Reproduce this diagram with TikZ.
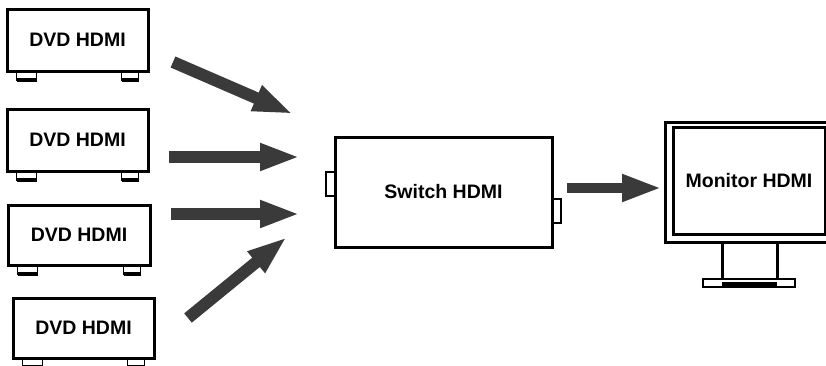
\documentclass[tikz,border=0pt]{standalone}
\usepackage{fontspec}
\setmainfont{Liberation Sans}
\usetikzlibrary{arrows.meta}
\definecolor{arr}{HTML}{3A3A3A}
\tikzset{
  dev/.style={draw=black, line width=3pt, fill=white, inner sep=0pt,
    font=\fontsize{19.5}{22}\selectfont\bfseries},
  bigarrow/.style={draw=arr, line width=12pt,
    -{Triangle[length=40pt,width=25pt]}},
  foot/.style={draw=black, line width=1.5pt, fill=white},
}
\newcommand{\feet}[1]{%
  \draw[foot] ([xshift=11pt]#1.south west) rectangle ([xshift=31pt,yshift=-8pt]#1.south west);
  \fill ([xshift=11pt,yshift=-5pt]#1.south west) rectangle ([xshift=31pt,yshift=-9pt]#1.south west);
  \draw[foot] ([xshift=-28pt]#1.south east) rectangle ([xshift=-11pt,yshift=-8pt]#1.south east);
  \fill ([xshift=-28pt,yshift=-5pt]#1.south east) rectangle ([xshift=-11pt,yshift=-9pt]#1.south east);
}
\begin{document}
\begin{tikzpicture}[x=1pt,y=-1pt]
\useasboundingbox (0,0) rectangle (826,365);
\clip (0,0) rectangle (826,365);
% DVD players
\node[dev, minimum width=141pt, minimum height=62pt] (d1) at (77.5,40) {DVD HDMI};
\node[dev, minimum width=141pt, minimum height=62pt] (d2) at (77.5,140) {DVD HDMI};
\node[dev, minimum width=142pt, minimum height=60pt] (d3) at (79,235) {DVD HDMI};
\node[dev, minimum width=141pt, minimum height=60pt] (d4) at (83.5,328) {DVD HDMI};
\feet{d1}\feet{d2}\feet{d3}\feet{d4}
% switch
\draw[line width=2pt, fill=white] (326,172) rectangle (335,196);
\draw[line width=2pt, fill=white] (552,199) rectangle (561,223);
\node[dev, minimum width=217pt, minimum height=110pt] (sw) at (443.5,192) {Switch HDMI};
% monitor
\draw[line width=3pt] (722,242) -- (722,280) (777,242) -- (777,280);
\draw[line width=1.5pt, fill=white] (703,279) rectangle (795,287);
\fill (722,282) rectangle (777,287);
\draw[line width=3pt, fill=white] (665,122) rectangle (845,242);
\node[dev, minimum width=152pt, minimum height=107pt] (mon) at (749,180.5) {Monitor HDMI};
% arrow end points
\coordinate (a1s) at (173,62);  \coordinate (a1e) at (293,114);
\coordinate (a2s) at (169,157); \coordinate (a2e) at (300,157);
\coordinate (a3s) at (171,214); \coordinate (a3e) at (300,214);
\coordinate (a4s) at (188,318); \coordinate (a4e) at (287,237);
\coordinate (a5s) at (567,188); \coordinate (a5e) at (662,188);
\draw[bigarrow] (a1s) -- (a1e);
\draw[bigarrow] (a2s) -- (a2e);
\draw[bigarrow] (a3s) -- (a3e);
\draw[bigarrow] (a4s) -- (a4e);
\draw[bigarrow, line width=10pt] (a5s) -- (a5e);
\end{tikzpicture}
\end{document}
